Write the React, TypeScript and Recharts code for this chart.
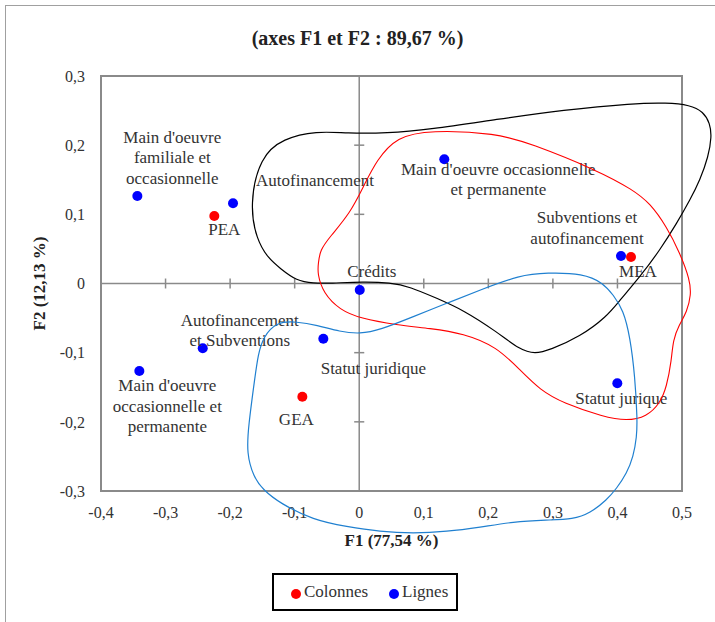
import React from 'react';
import { ComposedChart, Scatter, Line, XAxis, YAxis, ReferenceLine, ReferenceArea } from 'recharts';

// ---------- data ----------
const colonnesLabels: string[][] = [['PEA'], ['MEA'], ['GEA']];
const colonnesF1 = [-0.2245, 0.421, -0.0881];
const colonnesF2 = [0.0976, 0.0383, -0.1637];

const lignesLabels: string[][] = [
  ["Main d'oeuvre", 'familiale et', 'occasionnelle'],
  ['Autofinancement'],
  ["Main d'oeuvre occasionnelle", 'et permanente'],
  ['Subventions et', 'autofinancement'],
  ['Crédits'],
  ['Statut juridique'],
  ['Statut jurique'],
  ['Autofinancement', 'et Subventions'],
  ["Main d'oeuvre", 'occasionnelle et', 'permanente'],
];
const lignesF1 = [-0.3437, -0.1955, 0.1318, 0.4055, 0.0008, -0.0556, 0.3998, -0.2424, -0.3406];
const lignesF2 = [0.1265, 0.116, 0.1796, 0.0398, -0.0094, -0.0798, -0.1443, -0.0937, -0.1265];

const xTicks = [-0.4, -0.3, -0.2, -0.1, 0, 0.1, 0.2, 0.3, 0.4, 0.5];
const yTicks = [-0.3, -0.2, -0.1, 0, 0.1, 0.2, 0.3];

const titleText = '(axes F1 et F2 : 89,67 %)';
const xTitle = 'F1 (77,54 %)';
const yTitle = 'F2 (12,13 %)';
const seriesNames = ['Colonnes', 'Lignes'];

// hand-drawn group outlines (F1, F2)
const blackCurve: [number, number][] = [
  [-0.1588, 0.0629], [-0.1699, 0.1135], [-0.1537, 0.1833], [-0.1176, 0.2099], [-0.0658, 0.2205],
  [-0.0194, 0.2172], [0.0426, 0.2172], [0.1097, 0.2229], [0.213, 0.2374], [0.3162, 0.2508],
  [0.4246, 0.2605], [0.4763, 0.2614], [0.5124, 0.2581], [0.533, 0.2484], [0.5434, 0.2316],
  [0.546, 0.2122], [0.5408, 0.1833], [0.5279, 0.1496], [0.5124, 0.1207], [0.4918, 0.087],
  [0.4659, 0.0484], [0.4349, 0.0098], [0.404, -0.0239], [0.3834, -0.048], [0.342, -0.0769],
  [0.2955, -0.0961], [0.2723, -0.1019], [0.2491, -0.0961], [0.213, -0.0697], [0.1613, -0.0383],
  [0.12, -0.0214], [0.0787, -0.0046], [0.0477, 0.0012], [0.0064, 0.0026], [-0.0452, 0.0003],
  [-0.0711, 0.0003], [-0.0968, 0.0036], [-0.1227, 0.022], [-0.1413, 0.0369],
];
const redCurve: [number, number][] = [
  [-0.0633, 0.0292], [-0.0607, 0.0484], [-0.0452, 0.0677], [-0.0143, 0.1015], [0.0064, 0.14],
  [0.0271, 0.1786], [0.0581, 0.2122], [0.1097, 0.2219], [0.213, 0.2172], [0.2646, 0.2027],
  [0.3679, 0.1641], [0.4246, 0.1352], [0.4504, 0.116], [0.4763, 0.0821], [0.4969, 0.0437],
  [0.5124, 0.0051], [0.514, -0.0166], [0.5077, -0.0412], [0.4954, -0.06], [0.4861, -0.0817],
  [0.4838, -0.1106], [0.4763, -0.1492], [0.466, -0.1732], [0.4453, -0.1926], [0.4144, -0.1988],
  [0.3781, -0.1926], [0.3162, -0.1732], [0.2801, -0.154], [0.2491, -0.1251], [0.213, -0.0914],
  [0.1613, -0.072], [0.1097, -0.0648], [0.0581, -0.06], [0.0012, -0.0503], [-0.0297, -0.0383],
  [-0.0556, -0.0142], [-0.0649, 0.0147],
];
const blueCurve: [number, number][] = [
  [-0.1486, -0.0769], [-0.1278, -0.0552], [-0.0968, -0.0552], [-0.0658, -0.06], [-0.0297, -0.0697],
  [0.0012, -0.073], [0.0322, -0.0672], [0.0838, -0.048], [0.1355, -0.0286], [0.1871, -0.0094],
  [0.2491, 0.0123], [0.2904, 0.0156], [0.3467, 0.0147], [0.3781, 0.0007], [0.3936, -0.0166],
  [0.4091, -0.0383], [0.4195, -0.0769], [0.4272, -0.1347], [0.4308, -0.1973], [0.4299, -0.2215],
  [0.4246, -0.2504], [0.4144, -0.2744], [0.3989, -0.2961], [0.3834, -0.313], [0.3575, -0.3322],
  [0.3317, -0.3409], [0.2904, -0.3419], [0.2387, -0.3444], [0.1871, -0.3525], [0.1355, -0.3588],
  [0.0838, -0.3612], [0.0322, -0.3588], [-0.0194, -0.3516], [-0.0711, -0.3419], [-0.1227, -0.3178],
  [-0.1486, -0.2986], [-0.164, -0.2793], [-0.1743, -0.2455], [-0.1718, -0.207], [-0.1614, -0.1347],
  [-0.1568, -0.1034],
];

// ---------- style ----------
const FONT = "'Liberation Serif', 'Times New Roman', serif";
const TEXT = '#333333';
const GRID = '#8a8a8a';
const LINE_H = 20.5;
// label offsets (px) of first line centre from point
const lignesLabelPos = [[35, -59], [82, -23], [54, 10], [-34, -38], [12, -19], [50, 30], [4, 15], [37, -28], [28, 15]];
const colonnesLabelPos = [[10, 14], [7, 14], [-6, 23]];

const colonnesData = colonnesF1.map((x, i) => ({ x, y: colonnesF2[i], label: colonnesLabels[i], i }));
const lignesData = lignesF1.map((x, i) => ({ x, y: lignesF2[i], label: lignesLabels[i], i }));
const toPts = (arr: [number, number][]) => arr.map(([x, y]) => ({ x, y }));

const fmt = (v: number) => (v === 0 ? '0' : v.toFixed(1).replace('.', ','));

const makeShape = (color: string, pos: number[][]) => (props: any) => {
  const { cx, cy, payload } = props;
  const [dx, dy] = pos[payload.i];
  return (
    <g>
      <circle cx={cx} cy={cy} r={5} fill={color} />
      {payload.label.map((t: string, k: number) => (
        <text
          key={k}
          x={cx + dx}
          y={cy + dy + k * LINE_H}
          textAnchor="middle"
          dominantBaseline="central"
          fontFamily={FONT}
          fontSize={17}
          fill={TEXT}
        >
          {t}
        </text>
      ))}
    </g>
  );
};

const W = 715;
const H = 622;

export default function App() {
  const xMinor = xTicks.filter((t) => t !== 0 && t !== -0.4 && t !== 0.5);
  const yMinor = yTicks.filter((t) => t !== 0 && t !== -0.3 && t !== 0.3);
  return (
    <div style={{ position: 'absolute', left: 0, top: 0, width: W, height: H, overflow: 'hidden', background: '#fff' }}>
      <div style={{ position: 'absolute', left: 5, top: 5, width: 800, height: 800, borderLeft: '1.5px solid #a0a0a0', borderTop: '1.5px solid #a0a0a0' }} />
      <div
        style={{
          position: 'absolute', left: 0, top: 26, width: W, textAlign: 'center',
          fontFamily: FONT, fontWeight: 'bold', fontSize: 20, color: '#222', lineHeight: '24px',
        }}
      >
        {titleText}
      </div>
      <div style={{ position: 'absolute', left: 0, top: 0 }}>
        <ComposedChart width={W} height={H} margin={{ top: 76, right: 33, bottom: 101, left: 0 }}>
          <XAxis
            type="number"
            dataKey="x"
            domain={[-0.4, 0.5]}
            ticks={xTicks}
            interval={0}
            tickFormatter={fmt}
            axisLine={false}
            tickLine={false}
            tickSize={0}
            tickMargin={16}
            height={30}
            tick={{ fill: TEXT, fontSize: 16, fontFamily: FONT }}
            label={{
              content: (p: any) => (
                <text x={p.viewBox.x + p.viewBox.width / 2} y={p.viewBox.y + 55} textAnchor="middle" fontFamily={FONT} fontWeight="bold" fontSize={17} fill="#222">
                  {xTitle}
                </text>
              ),
            }}
          />
          <YAxis
            type="number"
            dataKey="y"
            domain={[-0.3, 0.3]}
            ticks={yTicks}
            interval={0}
            tickFormatter={fmt}
            axisLine={false}
            tickLine={false}
            tickSize={0}
            tickMargin={16}
            width={101}
            tick={{ fill: TEXT, fontSize: 16, fontFamily: FONT }}
            label={{
              content: (p: any) => {
                const cx = 45;
                const cy = p.viewBox.y + p.viewBox.height / 2;
                return (
                  <text x={cx} y={cy} transform={`rotate(-90, ${cx}, ${cy})`} textAnchor="middle" fontFamily={FONT} fontWeight="bold" fontSize={17} fill="#222">
                    {yTitle}
                  </text>
                );
              },
            }}
          />
          <ReferenceArea x1={-0.4} x2={0.5} y1={-0.3} y2={0.3} fill="none" fillOpacity={0} stroke={GRID} strokeWidth={2} />
          <ReferenceLine x={0} stroke={GRID} strokeWidth={1.5} />
          <ReferenceLine y={0} stroke={GRID} strokeWidth={1.5} />
          {xMinor.map((t) => (
            <ReferenceLine key={'xt' + t} segment={[{ x: t, y: -0.0072 }, { x: t, y: 0.0072 }]} stroke={GRID} strokeWidth={1.5} />
          ))}
          {yMinor.map((t) => (
            <ReferenceLine key={'yt' + t} segment={[{ x: -0.0078, y: t }, { x: 0.0078, y: t }]} stroke={GRID} strokeWidth={1.5} />
          ))}
          <Scatter name={seriesNames[0]} data={colonnesData} fill="#ff0000" shape={makeShape('#ff0000', colonnesLabelPos)} isAnimationActive={false} />
          <Scatter name={seriesNames[1]} data={lignesData} fill="#0000ff" shape={makeShape('#0000ff', lignesLabelPos)} isAnimationActive={false} />
        </ComposedChart>
      </div>
      <div style={{ position: 'absolute', left: 0, top: 0, pointerEvents: 'none' }}>
        <ComposedChart width={760} height={H} margin={{ top: 76, left: 101, right: 760 - 746.5556, bottom: H - 560.1667 }}>
          <XAxis type="number" dataKey="x" domain={[-0.4, 0.6]} hide />
          <YAxis type="number" dataKey="y" domain={[-0.4, 0.3]} hide />
          <Line data={toPts(blackCurve)} dataKey="y" type="basisClosed" stroke="#000000" strokeWidth={1.2} dot={false} activeDot={false} legendType="none" isAnimationActive={false} />
          <Line data={toPts(redCurve)} dataKey="y" type="basisClosed" stroke="#ff0000" strokeWidth={1.1} dot={false} activeDot={false} legendType="none" isAnimationActive={false} />
          <Line data={toPts(blueCurve)} dataKey="y" type="basisClosed" stroke="#2080d0" strokeWidth={1.2} dot={false} activeDot={false} legendType="none" isAnimationActive={false} />
        </ComposedChart>
      </div>
      <div
        style={{
          position: 'absolute', left: 272, top: 573, width: 186, height: 38, boxSizing: 'border-box',
          border: '2px solid #000', fontFamily: FONT, fontSize: 17, color: TEXT,
        }}
      >
        <span style={{ position: 'absolute', left: 17, top: 14, width: 10, height: 10, borderRadius: 5, background: '#ff0000' }} />
        <span style={{ position: 'absolute', left: 30, top: 7, lineHeight: '20px' }}>{seriesNames[0]}</span>
        <span style={{ position: 'absolute', left: 115, top: 14, width: 10, height: 10, borderRadius: 5, background: '#0000ff' }} />
        <span style={{ position: 'absolute', left: 128, top: 7, lineHeight: '20px' }}>{seriesNames[1]}</span>
      </div>
    </div>
  );
}
